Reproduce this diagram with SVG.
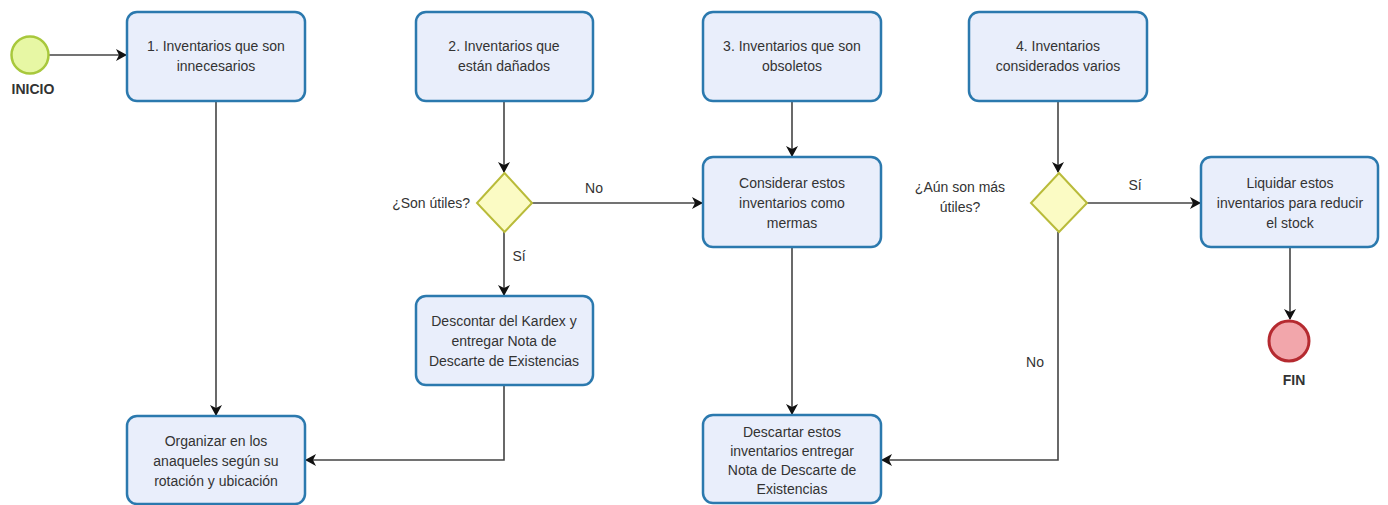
<svg xmlns="http://www.w3.org/2000/svg" width="1388" height="505" viewBox="0 0 1388 505">
<style>
.box{fill:#e9eefb;stroke:#2b79ae;stroke-width:2.5}
.dia{fill:#fbfbc4;stroke:#b9bb3a;stroke-width:2}
.t{font-family:"Liberation Sans",Arial,sans-serif;font-size:14px;fill:#333;text-anchor:middle}
.lbl{font-family:"Liberation Sans",Arial,sans-serif;font-size:14px;fill:#333}
.b{font-weight:bold;fill:#333}
.c{fill:none;stroke:#444;stroke-width:1.6}
</style>
<defs>
<marker id="arr" markerWidth="12" markerHeight="12" refX="10" refY="6" orient="auto" markerUnits="userSpaceOnUse">
<path d="M0,0 L11,6 L0,12 L3,6 Z" fill="#111"/>
</marker>
</defs>
<rect width="1388" height="505" fill="#fff"/>
<g id="connectors">
<path class="c" d="M49,55 H126" marker-end="url(#arr)"/>
<path class="c" d="M216,102 V415" marker-end="url(#arr)"/>
<path class="c" d="M504,102 V172" marker-end="url(#arr)"/>
<path class="c" d="M532,203 H702" marker-end="url(#arr)"/>
<path class="c" d="M504,232 V295" marker-end="url(#arr)"/>
<path class="c" d="M504,386 V460 H306" marker-end="url(#arr)"/>
<path class="c" d="M792,102 V156" marker-end="url(#arr)"/>
<path class="c" d="M792,248 V414" marker-end="url(#arr)"/>
<path class="c" d="M1058,102 V172" marker-end="url(#arr)"/>
<path class="c" d="M1087,203 H1200" marker-end="url(#arr)"/>
<path class="c" d="M1058,232 V460 H882" marker-end="url(#arr)"/>
<path class="c" d="M1290,248 V319" marker-end="url(#arr)"/>
<text class="lbl" x="594" y="193" text-anchor="middle">No</text>
<text class="lbl" x="519" y="261" text-anchor="middle">Sí</text>
<text class="lbl" x="1135" y="190" text-anchor="middle">Sí</text>
<text class="lbl" x="1035" y="367" text-anchor="middle">No</text>
</g>
<g id="inicio">
<circle cx="30" cy="55" r="18.5" fill="#e7f7a4" stroke="#a8c83c" stroke-width="2.5"/>
<text class="t b" x="33" y="94">INICIO</text>
</g>
<g id="box1">
<rect class="box" x="127" y="12" width="178" height="89" rx="10"/>
<text class="t" x="216" y="51">1. Inventarios que son</text>
<text class="t" x="216" y="71">innecesarios</text>
</g>
<g id="box2">
<rect class="box" x="416" y="12" width="177" height="89" rx="10"/>
<text class="t" x="504" y="51">2. Inventarios que</text>
<text class="t" x="504" y="71">están dañados</text>
</g>
<g id="box3">
<rect class="box" x="703" y="12" width="178" height="89" rx="10"/>
<text class="t" x="792" y="51">3. Inventarios que son</text>
<text class="t" x="792" y="71">obsoletos</text>
</g>
<g id="box4">
<rect class="box" x="969" y="12" width="178" height="89" rx="10"/>
<text class="t" x="1058" y="51">4. Inventarios</text>
<text class="t" x="1058" y="71">considerados varios</text>
</g>
<g id="dec1">
<polygon class="dia" points="504.5,173 532,203 504.5,232 477,203"/>
<text class="lbl" x="470" y="208" text-anchor="end">¿Son útiles?</text>
</g>
<g id="dec2">
<polygon class="dia" points="1059,173 1087,203 1059,232 1031,203"/>
<text class="t" x="960" y="192">¿Aún son más</text>
<text class="t" x="960" y="212">útiles?</text>
</g>
<g id="consider">
<rect class="box" x="703" y="157" width="178" height="90" rx="10"/>
<text class="t" x="792" y="188">Considerar estos</text>
<text class="t" x="792" y="208">inventarios como</text>
<text class="t" x="792" y="228">mermas</text>
</g>
<g id="liquidar">
<rect class="box" x="1201" y="157" width="177" height="90" rx="10"/>
<text class="t" x="1290" y="188">Liquidar estos</text>
<text class="t" x="1290" y="208">inventarios para reducir</text>
<text class="t" x="1290" y="228">el stock</text>
</g>
<g id="descontar">
<rect class="box" x="416" y="296" width="177" height="89" rx="10"/>
<text class="t" x="504" y="326">Descontar del Kardex y</text>
<text class="t" x="504" y="346">entregar Nota de</text>
<text class="t" x="504" y="366">Descarte de Existencias</text>
</g>
<g id="organizar">
<rect class="box" x="127" y="416" width="178" height="88" rx="10"/>
<text class="t" x="216" y="446">Organizar en los</text>
<text class="t" x="216" y="466">anaqueles según su</text>
<text class="t" x="216" y="486">rotación y ubicación</text>
</g>
<g id="descartar">
<rect class="box" x="703" y="415" width="178" height="88" rx="10"/>
<text class="t" x="792" y="437">Descartar estos</text>
<text class="t" x="792" y="456">inventarios entregar</text>
<text class="t" x="792" y="475">Nota de Descarte de</text>
<text class="t" x="792" y="494">Existencias</text>
</g>
<g id="fin">
<circle cx="1289" cy="341" r="20" fill="#f2a6ab" stroke="#b52a30" stroke-width="3"/>
<text class="t b" x="1294" y="385">FIN</text>
</g>
</svg>
